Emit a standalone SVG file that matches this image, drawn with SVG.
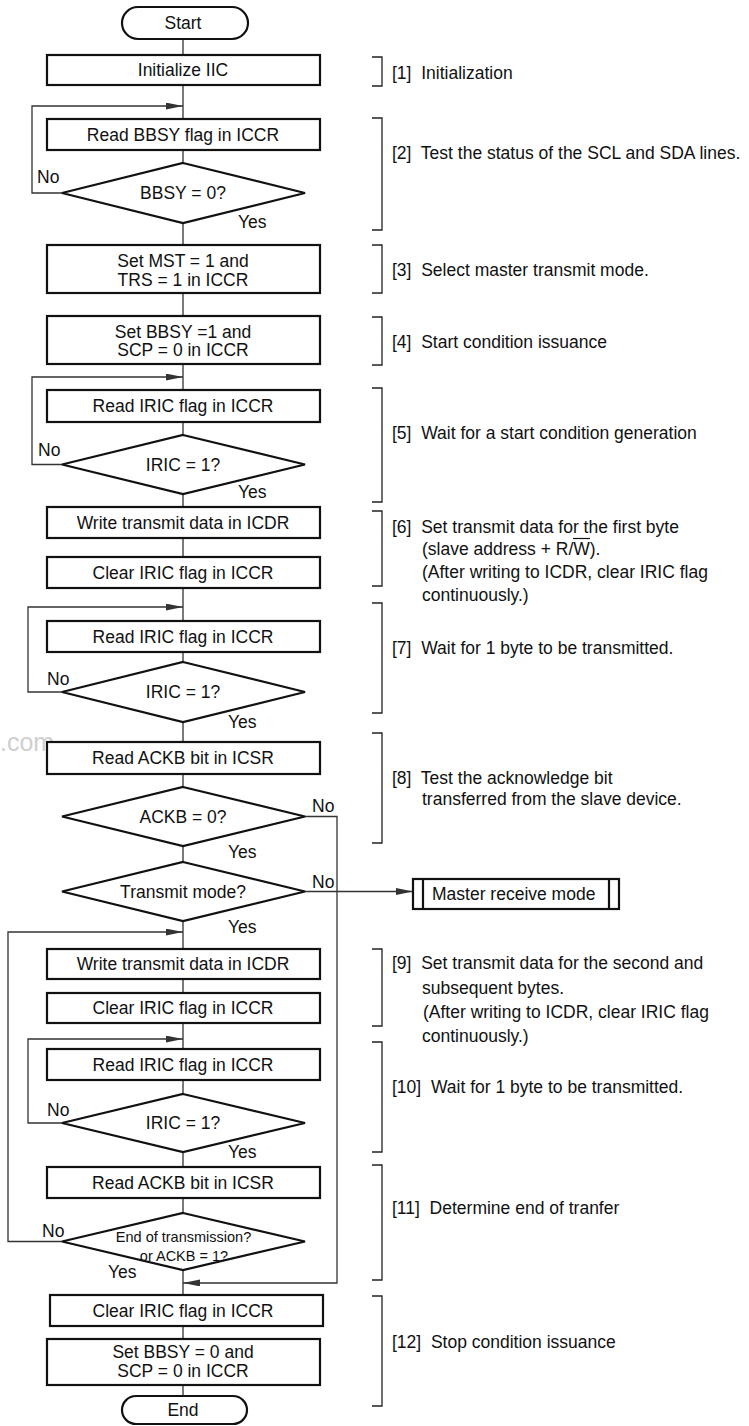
<svg xmlns="http://www.w3.org/2000/svg" width="749" height="1426" viewBox="0 0 749 1426">
<style>
text{font-family:"Liberation Sans",Arial,sans-serif;font-size:17.5px;fill:#111;white-space:pre}
.c{text-anchor:middle}
.box{fill:#fff;stroke:#111;stroke-width:2.2}
.dia{fill:#fff;stroke:#111;stroke-width:2.2}
.ln{fill:none;stroke:#333;stroke-width:1.3}
.br{fill:none;stroke:#222;stroke-width:1.3}
.sm{font-size:14.5px}
.wm{font-size:25px;fill:#cfcfcf}
</style>
<defs>
<marker id="ah" markerUnits="userSpaceOnUse" markerWidth="18" markerHeight="8" refX="17" refY="3.4" orient="auto">
<path d="M0,0 L17,3.4 L0,6.8 z" fill="#333"/>
</marker>
</defs>
<rect width="749" height="1426" fill="#fff"/>
<text class="wm" x="0" y="751">.com</text>

<g id="connectors">
<path class="ln" d="M183,39V55 M183,85V119 M183,150V163 M183,223V245 M183,293V316 M183,364V390 M183,422V435 M183,494V507 M183,538V557 M183,588V621 M183,652V662 M183,722V742 M183,774V787 M183,846V862 M183,921V949 M183,979V993 M183,1023V1049 M183,1080V1094 M183,1152V1167 M183,1198V1213 M183,1270V1295 M183,1326V1339 M183,1385V1396"/>
<path class="ln" d="M62,193H32V106H183" marker-end="url(#ah)"/>
<path class="ln" d="M62,464.5H32V377H183" marker-end="url(#ah)"/>
<path class="ln" d="M62,692H28V607H183" marker-end="url(#ah)"/>
<path class="ln" d="M62,1123H28V1039H183" marker-end="url(#ah)"/>
<path class="ln" d="M62,1241.5H8V932H183" marker-end="url(#ah)"/>
<path class="ln" d="M305,816.5H337V1283H183" marker-end="url(#ah)"/>
<path class="ln" d="M305,891.5H413" marker-end="url(#ah)"/>
<text x="37" y="183">No</text>
<text x="238" y="228">Yes</text>
<text x="38" y="456">No</text>
<text x="238" y="498">Yes</text>
<text x="47" y="685">No</text>
<text x="228" y="728">Yes</text>
<text x="312" y="812">No</text>
<text x="228" y="858">Yes</text>
<text x="312" y="888">No</text>
<text x="228" y="933">Yes</text>
<text x="47" y="1116">No</text>
<text x="228" y="1158">Yes</text>
<text x="42" y="1237">No</text>
<text x="108" y="1278">Yes</text>
</g>

<g id="start"><rect class="box" x="122" y="7" width="126" height="32" rx="16"/><text class="c" x="183" y="29">Start</text></g>
<g id="init"><rect class="box" x="47" y="55" width="273" height="30"/><text class="c" x="183" y="76">Initialize IIC</text></g>
<g id="readBBSY"><rect class="box" x="47" y="119" width="273" height="31"/><text class="c" x="183" y="141">Read BBSY flag in ICCR</text></g>
<g id="decBBSY"><polygon class="dia" points="183,163 305,193 183,223 62,193"/><text class="c" x="183" y="199">BBSY = 0?</text></g>
<g id="setMST"><rect class="box" x="47" y="245" width="273" height="48"/><text class="c" x="183" y="267">Set MST = 1 and</text><text class="c" x="183" y="286">TRS = 1 in ICCR</text></g>
<g id="setBBSY1"><rect class="box" x="47" y="316" width="273" height="48"/><text class="c" x="183" y="338">Set BBSY =1 and</text><text class="c" x="183" y="356">SCP = 0 in ICCR</text></g>
<g id="readIRIC1"><rect class="box" x="47" y="390" width="273" height="32"/><text class="c" x="183" y="412">Read IRIC flag in ICCR</text></g>
<g id="decIRIC1"><polygon class="dia" points="183,435 305,464.5 183,494 62,464.5"/><text class="c" x="183" y="471">IRIC = 1?</text></g>
<g id="write1"><rect class="box" x="47" y="507" width="273" height="31"/><text class="c" x="183" y="529">Write transmit data in ICDR</text></g>
<g id="clear1"><rect class="box" x="47" y="557" width="273" height="31"/><text class="c" x="183" y="579">Clear IRIC flag in ICCR</text></g>
<g id="readIRIC2"><rect class="box" x="47" y="621" width="273" height="31"/><text class="c" x="183" y="643">Read IRIC flag in ICCR</text></g>
<g id="decIRIC2"><polygon class="dia" points="183,662 305,692 183,722 62,692"/><text class="c" x="183" y="698">IRIC = 1?</text></g>
<g id="readACKB1"><rect class="box" x="47" y="742" width="273" height="32"/><text class="c" x="183" y="764">Read ACKB bit in ICSR</text></g>
<g id="decACKB"><polygon class="dia" points="183,787 305,816.5 183,846 62,816.5"/><text class="c" x="183" y="823">ACKB = 0?</text></g>
<g id="decTx"><polygon class="dia" points="183,862 305,891.5 183,921 62,891.5"/><text class="c" x="183" y="898">Transmit mode?</text></g>
<g id="masterRx"><rect class="box" x="413" y="879" width="206" height="30"/><path class="box" d="M423,879V909 M609,879V909"/><text x="432" y="900">Master receive mode</text></g>
<g id="write2"><rect class="box" x="47" y="949" width="273" height="30"/><text class="c" x="183" y="970">Write transmit data in ICDR</text></g>
<g id="clear2"><rect class="box" x="47" y="993" width="273" height="30"/><text class="c" x="183" y="1014">Clear IRIC flag in ICCR</text></g>
<g id="readIRIC3"><rect class="box" x="47" y="1049" width="273" height="31"/><text class="c" x="183" y="1071">Read IRIC flag in ICCR</text></g>
<g id="decIRIC3"><polygon class="dia" points="183,1094 305,1123 183,1152 62,1123"/><text class="c" x="183" y="1129">IRIC = 1?</text></g>
<g id="readACKB2"><rect class="box" x="47" y="1167" width="273" height="31"/><text class="c" x="183" y="1189">Read ACKB bit in ICSR</text></g>
<g id="decEnd"><polygon class="dia" points="183,1213 305,1241.5 183,1270 62,1241.5"/><text class="c sm" x="183.5" y="1242">End of transmission?</text><text class="c sm" x="184" y="1261">or ACKB = 1?</text></g>
<g id="clear3"><rect class="box" x="50" y="1295" width="273" height="31"/><text class="c" x="183" y="1317">Clear IRIC flag in ICCR</text></g>
<g id="setBBSY0"><rect class="box" x="47" y="1339" width="273" height="46"/><text class="c" x="183" y="1358">Set BBSY = 0 and</text><text class="c" x="183" y="1377">SCP = 0 in ICCR</text></g>
<g id="end"><rect class="box" x="122" y="1396" width="125" height="28" rx="14"/><text class="c" x="183" y="1416">End</text></g>

<g id="notes">
<path class="br" d="M372,57H382V86H372 M372,118H382V230H372 M372,245H382V293H372 M372,317H382V365H372 M372,388H382V502H372 M372,511H382V586H372 M372,603H382V713H372 M372,733H382V843H372 M372,949H382V1026H372 M372,1042H382V1152H372 M372,1165H382V1280H372 M372,1296H382V1406H372"/>
<text x="392" y="79">[1]  Initialization</text>
<text x="392" y="159">[2]  Test the status of the SCL and SDA lines.</text>
<text x="392" y="276">[3]  Select master transmit mode.</text>
<text x="392" y="348">[4]  Start condition issuance</text>
<text x="392" y="439">[5]  Wait for a start condition generation</text>
<text x="392" y="533">[6]  Set transmit data for the first byte</text>
<text x="422" y="555">(slave address + R/W).</text>
<line x1="573" y1="538.5" x2="590" y2="538.5" stroke="#111" stroke-width="1.2"/>
<text x="422" y="578">(After writing to ICDR, clear IRIC flag</text>
<text x="422" y="601">continuously.)</text>
<text x="392" y="654">[7]  Wait for 1 byte to be transmitted.</text>
<text x="392" y="784">[8]  Test the acknowledge bit</text>
<text x="422" y="805">transferred from the slave device.</text>
<text x="392" y="969">[9]  Set transmit data for the second and</text>
<text x="422" y="994">subsequent bytes.</text>
<text x="423" y="1018">(After writing to ICDR, clear IRIC flag</text>
<text x="422" y="1042">continuously.)</text>
<text x="392" y="1093">[10]  Wait for 1 byte to be transmitted.</text>
<text x="392" y="1214">[11]  Determine end of tranfer</text>
<text x="392" y="1348">[12]  Stop condition issuance</text>
</g>
</svg>
